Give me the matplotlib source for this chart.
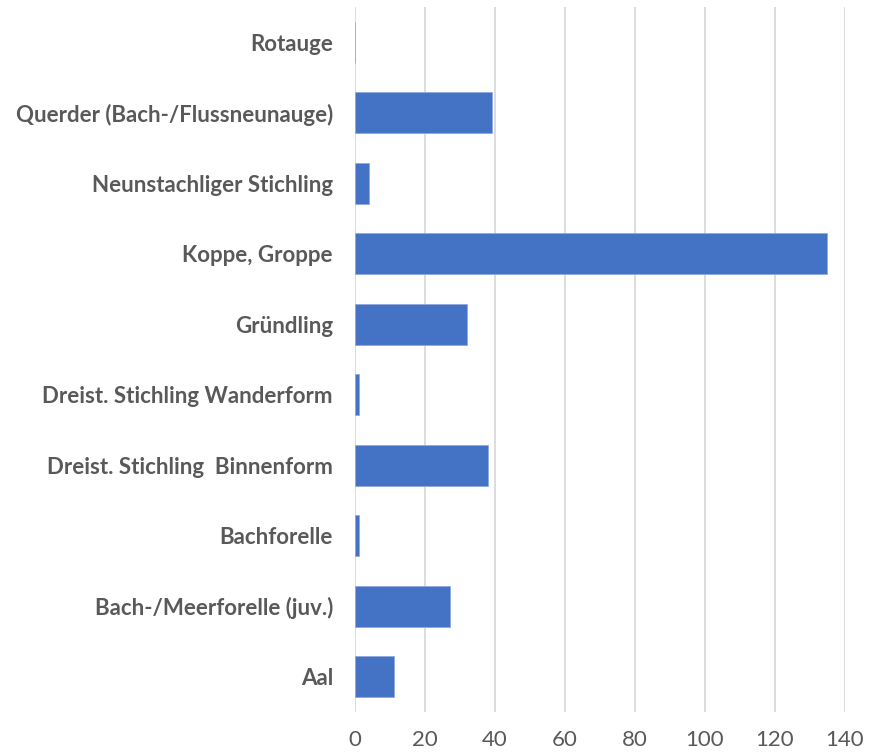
import matplotlib
matplotlib.use("Agg")
import matplotlib.pyplot as plt

# Fish counts per species (top to bottom as listed)
species = [
    "Rotauge",
    "Querder (Bach-/Flussneunauge)",
    "Neunstachliger Stichling",
    "Koppe, Groppe",
    "Gründling",
    "Dreist. Stichling Wanderform",
    "Dreist. Stichling  Binnenform",
    "Bachforelle",
    "Bach-/Meerforelle (juv.)",
    "Aal",
]
counts = [0, 39, 4, 135, 32, 1, 38, 1, 27, 11]
xticks = [0, 20, 40, 60, 80, 100, 120, 140]

plt.rcParams['font.family'] = ['Lato', 'DejaVu Sans']

fig = plt.figure(figsize=(8.79, 7.54), dpi=100)
ax = fig.add_axes([0.404, 0.0557, 0.557, 0.935])

ypos = list(range(len(species)))
ax.barh(ypos, counts, height=0.58, color='#4472C4',
        edgecolor='#8FAADC', linewidth=0.6, zorder=3)

ax.set_ylim(len(species) - 0.5, -0.5)
ax.set_xlim(0, 140)
ax.set_xticks(xticks)
ax.set_xticklabels([str(t) for t in xticks], fontsize=16, color='#595959')
ax.set_yticks(ypos)
ax.set_yticklabels(species, fontsize=16, fontweight='bold', color='#595959')
ax.tick_params(axis='both', length=0)
ax.tick_params(axis='x', pad=13)
ax.tick_params(axis='y', pad=16)

ax.grid(axis='x', color='#D9D9D9', linewidth=1.3, zorder=0)
for s in ax.spines.values():
    s.set_visible(False)

fig.savefig('out.png', dpi=100)
